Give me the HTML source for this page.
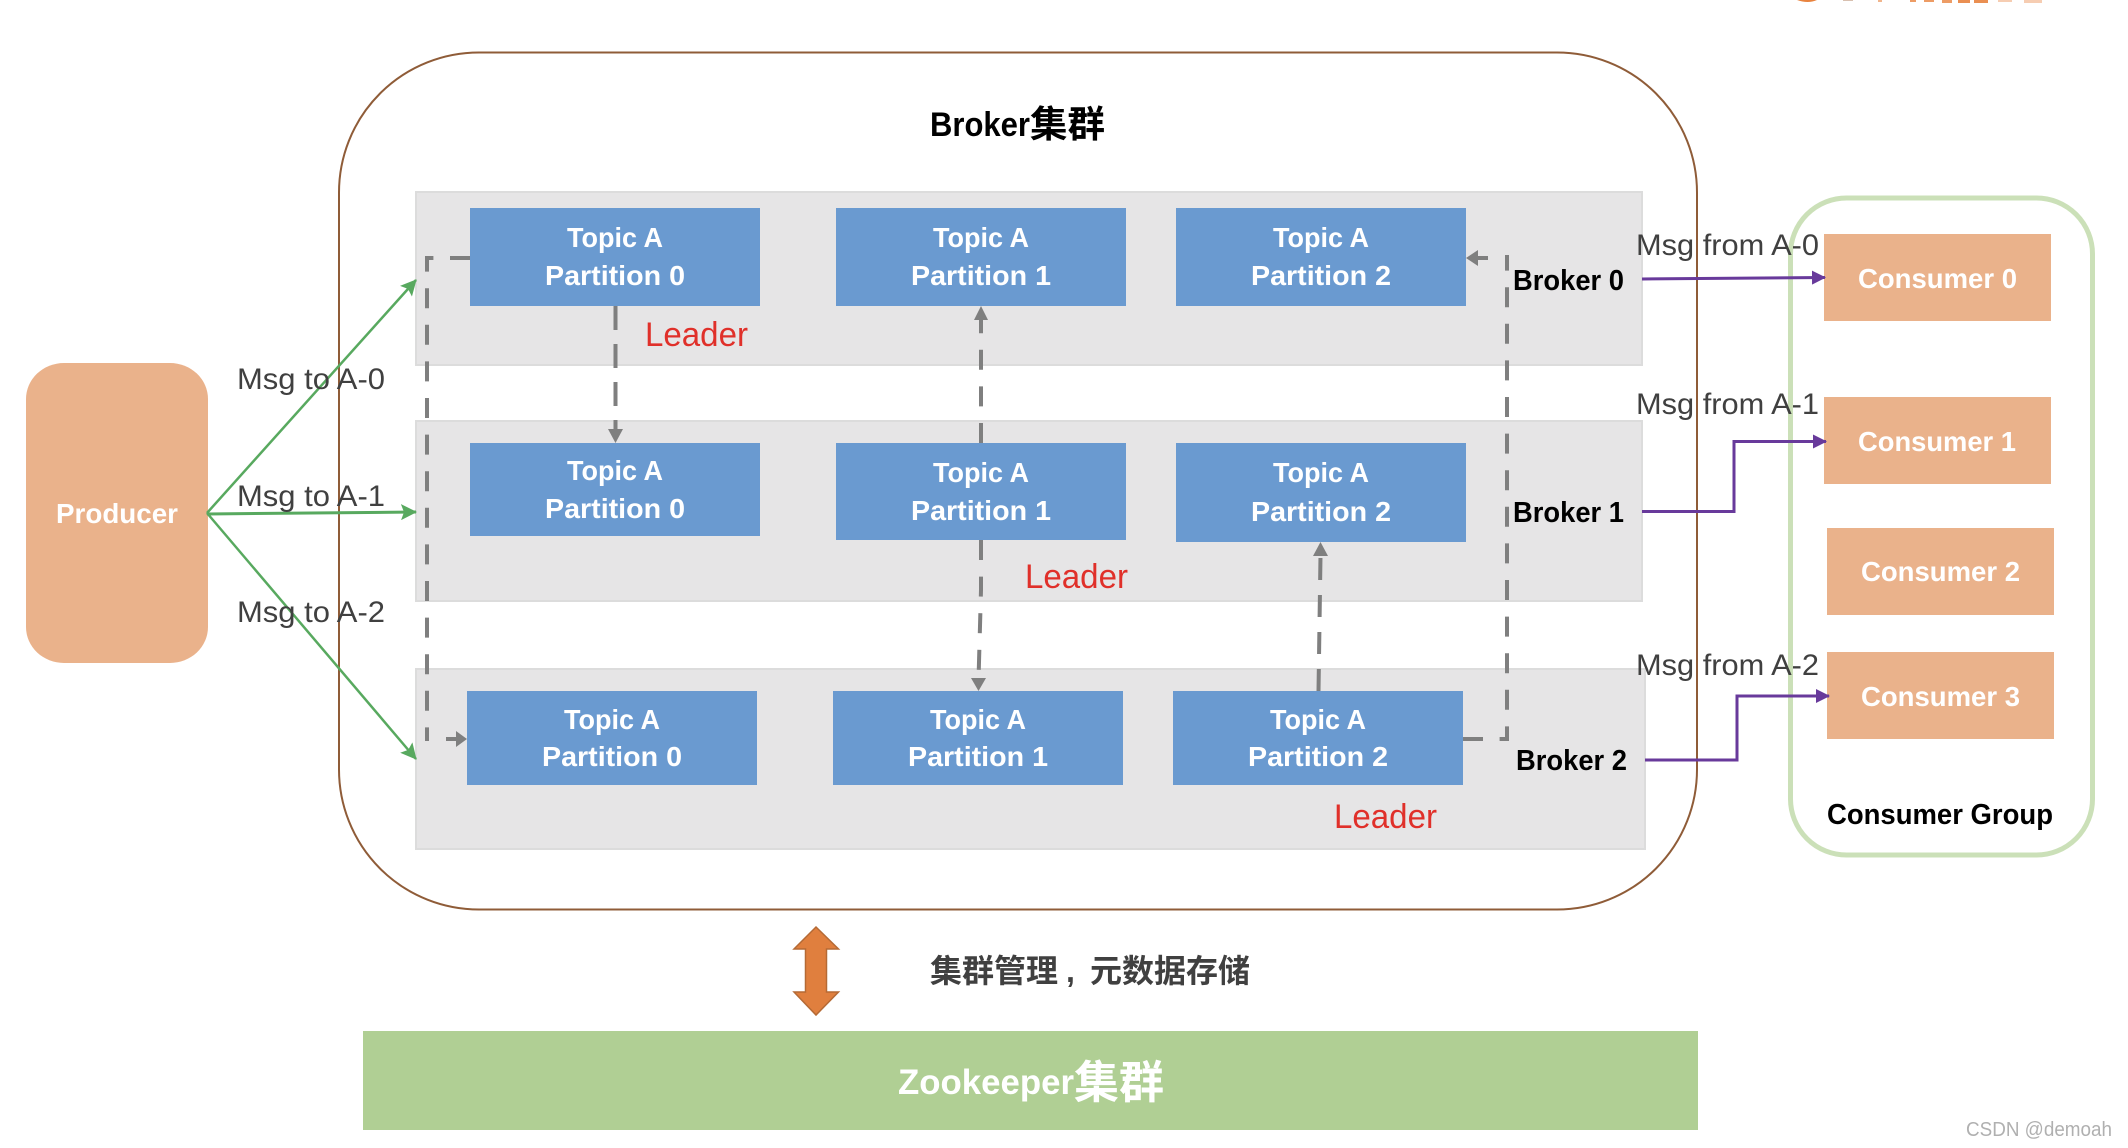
<!DOCTYPE html>
<html>
<head>
<meta charset="utf-8">
<style>
html,body{margin:0;padding:0;background:#fff;}
svg{display:block;}
text{font-family:"Liberation Sans","Noto Sans CJK SC",sans-serif;}
.w{fill:#fff;font-weight:bold;font-size:28px;}
.k{fill:#000;font-weight:bold;font-size:29px;}
.g{fill:#404040;font-size:30px;}
.r{fill:#e0302a;font-size:34px;}
.p{fill:#6a9ad0;}
.c{fill:#eab28b;}
.row{fill:#e6e5e6;stroke:#dcdcdc;stroke-width:2;}
.d{fill:none;stroke:#7f7f7f;stroke-width:4;stroke-dasharray:20 16.6;}
.gl{fill:none;stroke:#58a95f;stroke-width:2.5;}
.pu{fill:none;stroke:#683a9b;stroke-width:3;}
.ga{fill:#7f7f7f;}
</style>
</head>
<body>
<svg width="2128" height="1148" viewBox="0 0 2128 1148" xmlns="http://www.w3.org/2000/svg">
<defs>
<marker id="ag" markerUnits="userSpaceOnUse" markerWidth="16" markerHeight="16" refX="15" refY="8" orient="auto"><path d="M0 0L16 8L0 16L3 8Z" fill="#58a95f"/></marker>
<marker id="ap" markerUnits="userSpaceOnUse" markerWidth="14" markerHeight="16" refX="13" refY="8" orient="auto"><path d="M0 1L14 8L0 15Z" fill="#683a9b"/></marker>
</defs>
<rect width="2128" height="1148" fill="#fff"/>

<!-- top-right cropped logo -->
<g fill="#e8833f">
<path d="M1797 0H1817Q1808 4 1797 0Z"/>
<rect x="1843" y="0" width="10" height="1" fill="#d8c0b0"/>
<rect x="1878" y="0" width="4" height="2" opacity=".6"/>
<rect x="1910" y="0" width="6" height="2" opacity=".8"/>
<rect x="1924" y="0" width="10" height="2" opacity=".8"/>
<rect x="1942" y="0" width="10" height="3" opacity=".8"/>
<rect x="1958" y="0" width="12" height="3" opacity=".9"/>
<rect x="1974" y="0" width="14" height="3" opacity=".9"/>
<rect x="1998" y="0" width="14" height="2" opacity=".4"/>
<rect x="2024" y="0" width="18" height="3" opacity=".4"/>
</g>

<!-- broker cluster -->
<rect x="339" y="52.5" width="1358" height="857" rx="140" ry="140" fill="#fff" stroke="#8f5c38" stroke-width="2"/>
<text x="930" y="136" class="k" style="font-size:34px" textLength="100" lengthAdjust="spacingAndGlyphs">Broker</text>
<text x="1030" y="137" class="k" style="font-size:37px" textLength="75" lengthAdjust="spacingAndGlyphs">集群</text>

<!-- broker rows -->
<rect class="row" x="416" y="192" width="1226" height="173"/>
<rect class="row" x="416" y="421" width="1226" height="180"/>
<rect class="row" x="416" y="669" width="1229" height="180"/>

<!-- partitions -->
<rect class="p" x="470" y="208" width="290" height="98"/>
<rect class="p" x="836" y="208" width="290" height="98"/>
<rect class="p" x="1176" y="208" width="290" height="98"/>
<rect class="p" x="470" y="443" width="290" height="93"/>
<rect class="p" x="836" y="443" width="290" height="97"/>
<rect class="p" x="1176" y="443" width="290" height="99"/>
<rect class="p" x="467" y="691" width="290" height="94"/>
<rect class="p" x="833" y="691" width="290" height="94"/>
<rect class="p" x="1173" y="691" width="290" height="94"/>

<text class="w" x="615" y="247" text-anchor="middle" textLength="96" lengthAdjust="spacingAndGlyphs">Topic A</text>
<text class="w" x="615" y="285" text-anchor="middle" textLength="140" lengthAdjust="spacingAndGlyphs">Partition 0</text>
<text class="w" x="981" y="247" text-anchor="middle" textLength="96" lengthAdjust="spacingAndGlyphs">Topic A</text>
<text class="w" x="981" y="285" text-anchor="middle" textLength="140" lengthAdjust="spacingAndGlyphs">Partition 1</text>
<text class="w" x="1321" y="247" text-anchor="middle" textLength="96" lengthAdjust="spacingAndGlyphs">Topic A</text>
<text class="w" x="1321" y="285" text-anchor="middle" textLength="140" lengthAdjust="spacingAndGlyphs">Partition 2</text>

<text class="w" x="615" y="480" text-anchor="middle" textLength="96" lengthAdjust="spacingAndGlyphs">Topic A</text>
<text class="w" x="615" y="518" text-anchor="middle" textLength="140" lengthAdjust="spacingAndGlyphs">Partition 0</text>
<text class="w" x="981" y="482" text-anchor="middle" textLength="96" lengthAdjust="spacingAndGlyphs">Topic A</text>
<text class="w" x="981" y="520" text-anchor="middle" textLength="140" lengthAdjust="spacingAndGlyphs">Partition 1</text>
<text class="w" x="1321" y="482" text-anchor="middle" textLength="96" lengthAdjust="spacingAndGlyphs">Topic A</text>
<text class="w" x="1321" y="521" text-anchor="middle" textLength="140" lengthAdjust="spacingAndGlyphs">Partition 2</text>

<text class="w" x="612" y="729" text-anchor="middle" textLength="96" lengthAdjust="spacingAndGlyphs">Topic A</text>
<text class="w" x="612" y="766" text-anchor="middle" textLength="140" lengthAdjust="spacingAndGlyphs">Partition 0</text>
<text class="w" x="978" y="729" text-anchor="middle" textLength="96" lengthAdjust="spacingAndGlyphs">Topic A</text>
<text class="w" x="978" y="766" text-anchor="middle" textLength="140" lengthAdjust="spacingAndGlyphs">Partition 1</text>
<text class="w" x="1318" y="729" text-anchor="middle" textLength="96" lengthAdjust="spacingAndGlyphs">Topic A</text>
<text class="w" x="1318" y="766" text-anchor="middle" textLength="140" lengthAdjust="spacingAndGlyphs">Partition 2</text>

<!-- leaders -->
<text class="r" x="645" y="346" textLength="103" lengthAdjust="spacingAndGlyphs">Leader</text>
<text class="r" x="1025" y="588" textLength="103" lengthAdjust="spacingAndGlyphs">Leader</text>
<text class="r" x="1334" y="828" textLength="103" lengthAdjust="spacingAndGlyphs">Leader</text>

<!-- dashed replication -->
<path class="d" d="M470 258H427V741"/>
<path d="M446 737H456V731L467 739L456 747V741H446Z" class="ga"/>
<path class="d" d="M1463 739H1507V255"/>
<path d="M1488 256H1478V250L1466 258L1478 266V260H1488Z" class="ga"/>

<path class="d" d="M615.5 306V432" style="stroke-dasharray:24 14"/>
<path class="ga" d="M608 429H623L615.5 443Z"/>

<path class="d" d="M981 443V320"/>
<path class="ga" d="M974 320H988L981 306Z"/>

<path class="d" d="M981 540V590L978.5 680"/>
<path class="ga" d="M971 678H986L978.5 691Z"/>

<path class="d" d="M1318.5 691L1320.5 556" style="stroke-dasharray:22 15"/>
<path class="ga" d="M1313 556H1328L1320.5 542Z"/>

<!-- broker labels -->
<text class="k" x="1513" y="290" textLength="111" lengthAdjust="spacingAndGlyphs">Broker 0</text>
<text class="k" x="1513" y="522" textLength="111" lengthAdjust="spacingAndGlyphs">Broker 1</text>
<text class="k" x="1516" y="770" textLength="111" lengthAdjust="spacingAndGlyphs">Broker 2</text>

<!-- producer -->
<rect class="c" x="26" y="363" width="182" height="300" rx="38" ry="36"/>
<text class="w" x="56" y="523" textLength="122" lengthAdjust="spacingAndGlyphs">Producer</text>

<line class="gl" x1="207" y1="513" x2="416" y2="280" marker-end="url(#ag)"/>
<line class="gl" x1="207" y1="514" x2="416" y2="512" marker-end="url(#ag)" style="stroke-width:3"/>
<line class="gl" x1="207" y1="513" x2="416" y2="759" marker-end="url(#ag)"/>

<text class="g" x="237" y="389" textLength="148" lengthAdjust="spacingAndGlyphs">Msg to A-0</text>
<text class="g" x="237" y="506" textLength="148" lengthAdjust="spacingAndGlyphs">Msg to A-1</text>
<text class="g" x="237" y="622" textLength="148" lengthAdjust="spacingAndGlyphs">Msg to A-2</text>

<!-- consumer group -->
<rect x="1790.5" y="198" width="302" height="657" rx="56" ry="56" fill="none" stroke="#cbe0b8" stroke-width="5"/>

<rect class="c" x="1824" y="234" width="227" height="87"/>
<rect class="c" x="1824" y="397" width="227" height="87"/>
<rect class="c" x="1827" y="528" width="227" height="87"/>
<rect class="c" x="1827" y="652" width="227" height="87"/>
<text class="w" x="1858" y="288" textLength="159" lengthAdjust="spacingAndGlyphs">Consumer 0</text>
<text class="w" x="1858" y="451" textLength="158" lengthAdjust="spacingAndGlyphs">Consumer 1</text>
<text class="w" x="1861" y="581" textLength="159" lengthAdjust="spacingAndGlyphs">Consumer 2</text>
<text class="w" x="1861" y="706" textLength="159" lengthAdjust="spacingAndGlyphs">Consumer 3</text>
<text class="k" x="1827" y="824" textLength="226" lengthAdjust="spacingAndGlyphs">Consumer Group</text>

<!-- purple connectors -->
<line class="pu" x1="1642" y1="279" x2="1825" y2="277.5" marker-end="url(#ap)"/>
<path class="pu" d="M1642 511.5H1734V441.5H1826" marker-end="url(#ap)"/>
<path class="pu" d="M1645 760H1737V696H1829" marker-end="url(#ap)"/>

<text class="g" x="1636" y="255" textLength="183" lengthAdjust="spacingAndGlyphs">Msg from A-0</text>
<text class="g" x="1636" y="414" textLength="183" lengthAdjust="spacingAndGlyphs">Msg from A-1</text>
<text class="g" x="1636" y="675" textLength="183" lengthAdjust="spacingAndGlyphs">Msg from A-2</text>

<!-- double arrow -->
<path d="M816 927L838.5 949H826.5V992H838.5L816 1015L794 992H805.5V949H794Z" fill="#e07f3e" stroke="#b56a35" stroke-width="1.5"/>
<text x="930" y="982" fill="#404040" font-weight="bold" font-size="32" textLength="128" lengthAdjust="spacingAndGlyphs">集群管理</text>
<text x="1066" y="982" fill="#404040" font-weight="bold" font-size="32">,</text>
<text x="1090" y="982" fill="#404040" font-weight="bold" font-size="32" textLength="160" lengthAdjust="spacingAndGlyphs">元数据存储</text>

<!-- zookeeper -->
<rect x="363" y="1031" width="1335" height="99" fill="#b0cf94"/>
<text class="w" x="898" y="1094" style="font-size:35px" textLength="176" lengthAdjust="spacingAndGlyphs">Zookeeper</text>
<text class="w" x="1074" y="1098" style="font-size:45px" textLength="90" lengthAdjust="spacingAndGlyphs">集群</text>

<!-- watermark -->
<text x="1966" y="1136" fill="#b0b0b0" font-size="20" textLength="146" lengthAdjust="spacingAndGlyphs">CSDN @demoah</text>
</svg>
</body>
</html>
